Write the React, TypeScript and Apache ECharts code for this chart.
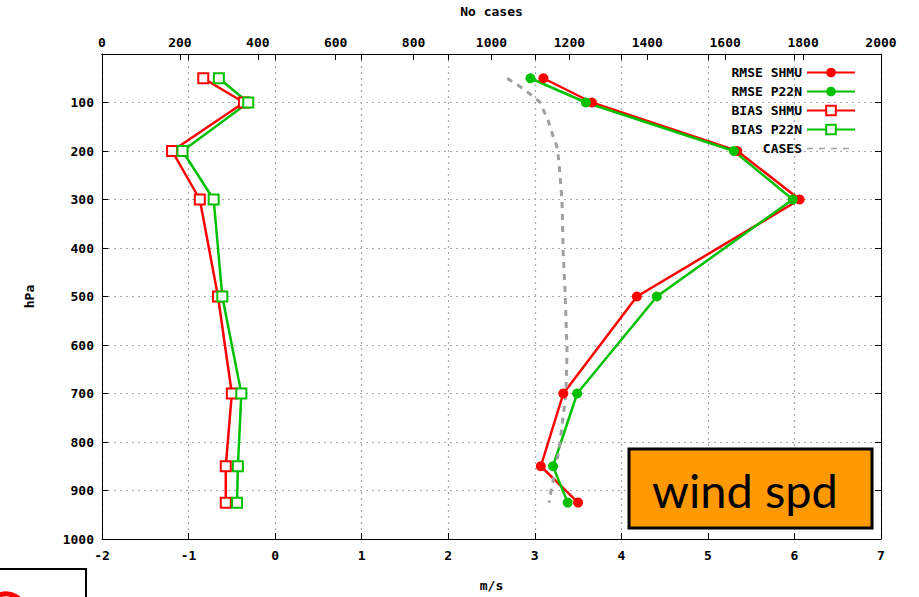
import React, { useEffect, useRef } from "react";
import * as echarts from "echarts";

const pressures = [50, 100, 200, 300, 500, 700, 850, 925];
const rmseShmu = [3.1, 3.66, 5.34, 6.06, 4.18, 3.33, 3.07, 3.5];
const rmseP22n = [2.95, 3.59, 5.3, 5.98, 4.41, 3.49, 3.21, 3.38];
const biasShmu = [-0.83, -0.36, -1.19, -0.87, -0.66, -0.5, -0.57, -0.57];
const biasP22n = [-0.65, -0.31, -1.07, -0.71, -0.61, -0.39, -0.43, -0.44];

const casesPressures = [50, 71, 99, 136, 162, 191, 221, 302, 410, 491, 613, 700, 800, 850, 900, 925];
const casesValues = [1040, 1081, 1124, 1145, 1155, 1168, 1173, 1181, 1184, 1189, 1194, 1191, 1176, 1166, 1153, 1148];

const mono = "DejaVu Sans Mono";
const axisText = { fontFamily: mono, fontWeight: "bold" as const, fontSize: 13, color: "#000" };

export default function App() {
  const ref = useRef<HTMLDivElement>(null);
  useEffect(() => {
    if (!ref.current) return;
    const chart = echarts.init(ref.current, undefined, { renderer: "svg" });
    const pair = (vals: number[], ps: number[]) => vals.map((v, i) => [v, ps[i]]);
    const tickIn = { show: true, inside: true, length: 6, lineStyle: { color: "#000" } };
    const axisLine = { show: true, onZero: false, lineStyle: { color: "#000", width: 1 } };
    const grid = { show: true, lineStyle: { color: "#a8a8a8", type: [2, 4] as any, width: 1.2 } };
    const plain = (v: number) => String(v);
    chart.setOption({
      animation: false,
      backgroundColor: "#fff",
      grid: { left: 102, right: 38, top: 48, bottom: 56 },
      legend: {
        orient: "vertical",
        align: "right",
        right: 58,
        top: 61,
        itemWidth: 48,
        itemHeight: 12,
        itemGap: 6,
        textStyle: { ...axisText, fontSize: 13 },
        data: [
          "RMSE SHMU",
          "RMSE P22N",
          "BIAS SHMU",
          "BIAS P22N",
          { name: "CASES", itemStyle: { opacity: 0 }, lineStyle: { width: 1.5 } },
        ],
      },
      xAxis: [
        {
          type: "value",
          position: "bottom",
          min: -2,
          max: 7,
          interval: 1,
          name: "m/s",
          nameLocation: "middle",
          nameGap: 40,
          nameTextStyle: axisText,
          axisLine,
          axisTick: tickIn,
          axisLabel: { ...axisText, margin: 10, formatter: plain },
          splitLine: grid,
        },
        {
          type: "value",
          position: "top",
          min: 0,
          max: 2000,
          interval: 200,
          name: "No cases",
          nameLocation: "middle",
          nameGap: 36,
          nameTextStyle: axisText,
          axisLine,
          axisTick: tickIn,
          axisLabel: { ...axisText, margin: 5, formatter: plain },
          splitLine: { show: false },
        },
        {
          type: "value",
          position: "top",
          min: -2,
          max: 7,
          interval: 1,
          axisLine,
          axisTick: tickIn,
          axisLabel: { show: false },
          splitLine: { show: false },
        },
      ],
      yAxis: [
        {
          type: "value",
          position: "left",
          inverse: true,
          min: 0,
          max: 1000,
          interval: 100,
          name: "hPa",
          nameLocation: "middle",
          nameGap: 66,
          nameTextStyle: axisText,
          axisLine,
          axisTick: tickIn,
          axisLabel: { ...axisText, margin: 8, formatter: (v: number) => (v === 0 ? "" : String(v)) },
          splitLine: grid,
        },
        {
          type: "value",
          position: "right",
          inverse: true,
          min: 0,
          max: 1000,
          interval: 100,
          axisLine,
          axisTick: tickIn,
          axisLabel: { show: false },
          splitLine: { show: false },
        },
      ],
      series: [
        {
          name: "RMSE SHMU",
          type: "line",
          xAxisIndex: 0,
          yAxisIndex: 0,
          data: pair(rmseShmu, pressures),
          color: "#ff0000",
          lineStyle: { width: 2.5, color: "#ff0000" },
          symbol: "circle",
          symbolSize: 10,
          itemStyle: { color: "#ff0000" },
        },
        {
          name: "RMSE P22N",
          type: "line",
          xAxisIndex: 0,
          yAxisIndex: 0,
          data: pair(rmseP22n, pressures),
          color: "#00c000",
          lineStyle: { width: 2.5, color: "#00c000" },
          symbol: "circle",
          symbolSize: 10,
          itemStyle: { color: "#00c000" },
        },
        {
          name: "BIAS SHMU",
          type: "line",
          xAxisIndex: 0,
          yAxisIndex: 0,
          data: pair(biasShmu, pressures),
          color: "#ff0000",
          lineStyle: { width: 2.5, color: "#ff0000" },
          symbol: "emptyRect",
          symbolSize: 10,
          itemStyle: { color: "#ff0000", borderWidth: 2.5 },
        },
        {
          name: "BIAS P22N",
          type: "line",
          xAxisIndex: 0,
          yAxisIndex: 0,
          data: pair(biasP22n, pressures),
          color: "#00c000",
          lineStyle: { width: 2.5, color: "#00c000" },
          symbol: "emptyRect",
          symbolSize: 10,
          itemStyle: { color: "#00c000", borderWidth: 2.5 },
        },
        {
          name: "CASES",
          type: "line",
          xAxisIndex: 1,
          yAxisIndex: 0,
          data: pair(casesValues, casesPressures),
          color: "#a0a0a0",
          lineStyle: { width: 3, color: "#a0a0a0", type: [6, 6] },
          symbol: "none",
          showSymbol: false,
        },
      ],
      graphic: [
        {
          type: "rect",
          shape: { x: 629, y: 449, width: 243, height: 79 },
          style: { fill: "#ff9900", stroke: "#000", lineWidth: 3 },
          z: 100,
        },
        {
          type: "text",
          x: 745,
          y: 490,
          style: {
            text: "wind spd",
            fill: "#000",
            font: "47px Lato",
            align: "center",
            verticalAlign: "middle",
          },
          z: 101,
        },
        {
          type: "rect",
          shape: { x: -5, y: 569, width: 91, height: 40 },
          style: { fill: "#fff", stroke: "#000", lineWidth: 2 },
          z: 100,
        },
        {
          type: "circle",
          shape: { cx: 6, cy: 614, r: 20 },
          style: { fill: "none", stroke: "#ff0000", lineWidth: 5 },
          z: 101,
        },
      ],
    });
    return () => chart.dispose();
  }, []);
  return (
    <div
      ref={ref}
      style={{ position: "fixed", left: 0, top: 0, width: 919, height: 597, background: "#fff" }}
    />
  );
}
